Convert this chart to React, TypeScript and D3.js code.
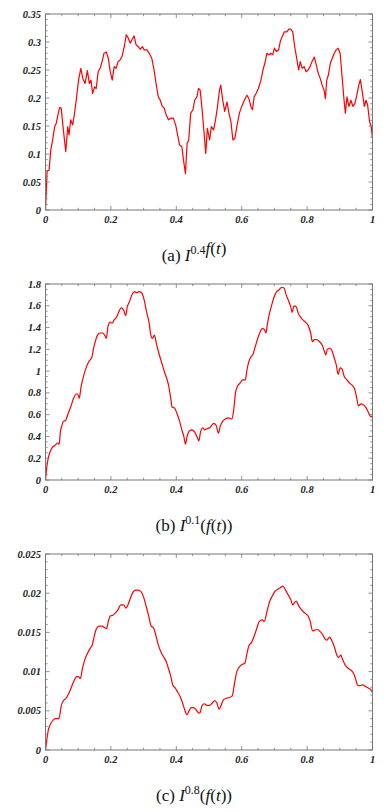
import React from "react";
import * as d3 from "d3";

// (a) I^0.4 f(t)
const T_A = [0, 0.005, 0.011, 0.016, 0.021, 0.028, 0.033, 0.037, 0.043, 0.048, 0.053, 0.058, 0.062, 0.068, 0.072, 0.077, 0.083, 0.088, 0.094, 0.101, 0.108, 0.114, 0.121, 0.128, 0.134, 0.139, 0.144, 0.15, 0.155, 0.161, 0.167, 0.173, 0.179, 0.186, 0.192, 0.198, 0.204, 0.21, 0.216, 0.222, 0.228, 0.234, 0.241, 0.247, 0.253, 0.259, 0.265, 0.271, 0.277, 0.283, 0.29, 0.296, 0.302, 0.31, 0.317, 0.325, 0.332, 0.338, 0.345, 0.351, 0.357, 0.363, 0.369, 0.376, 0.383, 0.391, 0.398, 0.404, 0.41, 0.417, 0.422, 0.428, 0.433, 0.438, 0.444, 0.451, 0.456, 0.463, 0.468, 0.473, 0.479, 0.485, 0.49, 0.495, 0.502, 0.507, 0.514, 0.52, 0.526, 0.532, 0.536, 0.542, 0.548, 0.555, 0.561, 0.567, 0.573, 0.579, 0.585, 0.593, 0.6, 0.608, 0.616, 0.622, 0.628, 0.633, 0.638, 0.644, 0.651, 0.659, 0.665, 0.672, 0.677, 0.683, 0.689, 0.695, 0.7, 0.706, 0.713, 0.718, 0.724, 0.73, 0.738, 0.744, 0.75, 0.756, 0.762, 0.769, 0.774, 0.779, 0.785, 0.791, 0.797, 0.803, 0.809, 0.815, 0.822, 0.828, 0.834, 0.84, 0.846, 0.852, 0.856, 0.86, 0.865, 0.871, 0.877, 0.883, 0.889, 0.895, 0.901, 0.907, 0.913, 0.917, 0.922, 0.928, 0.934, 0.94, 0.946, 0.952, 0.958, 0.963, 0.968, 0.975, 0.98, 0.985, 0.991, 0.996, 1.0];
const V_A = [0, 0.07, 0.071, 0.107, 0.122, 0.149, 0.155, 0.167, 0.183, 0.182, 0.152, 0.125, 0.104, 0.149, 0.134, 0.161, 0.152, 0.17, 0.196, 0.232, 0.253, 0.235, 0.226, 0.249, 0.226, 0.232, 0.208, 0.22, 0.217, 0.247, 0.253, 0.265, 0.28, 0.282, 0.271, 0.247, 0.232, 0.256, 0.253, 0.265, 0.268, 0.274, 0.292, 0.313, 0.307, 0.298, 0.305, 0.311, 0.295, 0.292, 0.287, 0.292, 0.286, 0.286, 0.28, 0.271, 0.25, 0.226, 0.202, 0.196, 0.185, 0.182, 0.17, 0.161, 0.164, 0.164, 0.152, 0.134, 0.116, 0.113, 0.089, 0.065, 0.119, 0.125, 0.173, 0.179, 0.196, 0.202, 0.217, 0.214, 0.179, 0.137, 0.101, 0.146, 0.125, 0.149, 0.143, 0.161, 0.185, 0.214, 0.223, 0.196, 0.176, 0.193, 0.173, 0.158, 0.125, 0.128, 0.149, 0.173, 0.185, 0.196, 0.205, 0.199, 0.185, 0.179, 0.202, 0.208, 0.217, 0.232, 0.25, 0.265, 0.28, 0.277, 0.28, 0.277, 0.289, 0.283, 0.286, 0.301, 0.31, 0.318, 0.318, 0.323, 0.323, 0.318, 0.292, 0.268, 0.25, 0.265, 0.253, 0.256, 0.247, 0.25, 0.256, 0.265, 0.273, 0.259, 0.244, 0.235, 0.223, 0.214, 0.199, 0.232, 0.241, 0.262, 0.271, 0.28, 0.286, 0.289, 0.28, 0.238, 0.196, 0.173, 0.202, 0.185, 0.196, 0.185, 0.19, 0.205, 0.223, 0.233, 0.214, 0.185, 0.196, 0.188, 0.158, 0.149, 0.128];

// (b) I^0.1(f(t))
const T_B = [0, 0.004, 0.009, 0.014, 0.021, 0.03, 0.037, 0.042, 0.045, 0.05, 0.055, 0.061, 0.068, 0.077, 0.086, 0.094, 0.099, 0.103, 0.109, 0.116, 0.124, 0.133, 0.142, 0.147, 0.154, 0.159, 0.167, 0.175, 0.181, 0.186, 0.191, 0.198, 0.204, 0.21, 0.218, 0.225, 0.231, 0.239, 0.245, 0.25, 0.257, 0.264, 0.272, 0.279, 0.285, 0.294, 0.302, 0.31, 0.317, 0.322, 0.327, 0.333, 0.34, 0.348, 0.356, 0.364, 0.371, 0.377, 0.383, 0.387, 0.395, 0.402, 0.41, 0.417, 0.423, 0.428, 0.433, 0.44, 0.448, 0.456, 0.463, 0.469, 0.474, 0.481, 0.487, 0.493, 0.502, 0.508, 0.514, 0.522, 0.529, 0.534, 0.542, 0.55, 0.56, 0.57, 0.575, 0.581, 0.587, 0.595, 0.603, 0.611, 0.616, 0.622, 0.628, 0.634, 0.641, 0.648, 0.655, 0.663, 0.67, 0.674, 0.679, 0.685, 0.692, 0.699, 0.707, 0.714, 0.718, 0.724, 0.73, 0.736, 0.744, 0.75, 0.754, 0.76, 0.767, 0.773, 0.779, 0.787, 0.795, 0.803, 0.811, 0.816, 0.822, 0.83, 0.838, 0.846, 0.852, 0.857, 0.862, 0.871, 0.877, 0.883, 0.889, 0.895, 0.901, 0.907, 0.913, 0.922, 0.93, 0.938, 0.946, 0.952, 0.957, 0.964, 0.973, 0.981, 0.989, 0.995, 1.0];
const V_B = [0, 0.12, 0.21, 0.26, 0.3, 0.32, 0.34, 0.33, 0.43, 0.5, 0.54, 0.545, 0.6, 0.67, 0.75, 0.79, 0.79, 0.75, 0.86, 0.95, 1.03, 1.09, 1.13, 1.21, 1.29, 1.33, 1.35, 1.35, 1.33, 1.3, 1.41, 1.45, 1.44, 1.47, 1.5, 1.55, 1.58, 1.56, 1.51, 1.59, 1.64, 1.7, 1.73, 1.72, 1.73, 1.72, 1.65, 1.53, 1.44, 1.33, 1.3, 1.33, 1.24, 1.15, 1.07, 0.99, 0.93, 0.86, 0.75, 0.67, 0.66, 0.61, 0.54, 0.46, 0.4, 0.33, 0.4, 0.45, 0.46, 0.44, 0.4, 0.36, 0.44, 0.48, 0.46, 0.47, 0.48, 0.5, 0.52, 0.5, 0.43, 0.49, 0.54, 0.56, 0.57, 0.56, 0.63, 0.8, 0.86, 0.89, 0.92, 0.92, 1.01, 1.09, 1.13, 1.15, 1.22, 1.29, 1.35, 1.39, 1.38, 1.35, 1.44, 1.53, 1.61, 1.68, 1.73, 1.745, 1.76, 1.77, 1.76, 1.7, 1.64, 1.59, 1.54, 1.6, 1.59, 1.53, 1.5, 1.47, 1.45, 1.42, 1.35, 1.27, 1.29, 1.29, 1.27, 1.24, 1.19, 1.15, 1.2, 1.21, 1.18, 1.12, 1.06, 0.97, 1.03, 1.02, 0.955, 0.92, 0.89, 0.87, 0.83, 0.75, 0.68, 0.7, 0.69, 0.66, 0.61, 0.58, 0.59];

// (c) I^0.8(f(t))
const T_C = [0, 0.004, 0.009, 0.014, 0.021, 0.03, 0.04, 0.043, 0.048, 0.055, 0.063, 0.071, 0.08, 0.088, 0.096, 0.102, 0.107, 0.112, 0.12, 0.128, 0.137, 0.143, 0.149, 0.155, 0.163, 0.173, 0.181, 0.187, 0.192, 0.198, 0.206, 0.214, 0.222, 0.23, 0.239, 0.246, 0.251, 0.259, 0.267, 0.275, 0.283, 0.292, 0.3, 0.308, 0.316, 0.323, 0.33, 0.337, 0.345, 0.353, 0.361, 0.369, 0.376, 0.383, 0.389, 0.397, 0.404, 0.412, 0.419, 0.426, 0.432, 0.438, 0.445, 0.453, 0.461, 0.469, 0.473, 0.479, 0.486, 0.493, 0.502, 0.51, 0.518, 0.524, 0.531, 0.537, 0.544, 0.553, 0.563, 0.571, 0.578, 0.585, 0.593, 0.601, 0.61, 0.616, 0.622, 0.63, 0.638, 0.646, 0.654, 0.663, 0.669, 0.677, 0.685, 0.693, 0.701, 0.71, 0.718, 0.726, 0.734, 0.742, 0.75, 0.756, 0.76, 0.767, 0.773, 0.779, 0.787, 0.795, 0.803, 0.809, 0.817, 0.824, 0.832, 0.84, 0.848, 0.854, 0.86, 0.869, 0.875, 0.883, 0.891, 0.897, 0.903, 0.909, 0.917, 0.926, 0.934, 0.942, 0.948, 0.954, 0.962, 0.97, 0.979, 0.987, 0.995, 1.0];
const V_C = [0, 0.0013, 0.0026, 0.0032, 0.0037, 0.004, 0.004, 0.0043, 0.0056, 0.0063, 0.0066, 0.0072, 0.0081, 0.0089, 0.0094, 0.0093, 0.0091, 0.0102, 0.0115, 0.0123, 0.013, 0.0134, 0.0145, 0.0154, 0.0158, 0.0158, 0.0156, 0.0155, 0.0164, 0.0171, 0.0172, 0.0175, 0.0179, 0.0185, 0.0185, 0.0181, 0.0184, 0.0193, 0.0201, 0.0204, 0.0204, 0.0202, 0.0195, 0.0183, 0.017, 0.0158, 0.0156, 0.0147, 0.0134, 0.0125, 0.0119, 0.0113, 0.0104, 0.0094, 0.0083, 0.0079, 0.0074, 0.0068, 0.006, 0.0051, 0.0045, 0.0049, 0.0054, 0.0054, 0.0051, 0.0047, 0.0048, 0.0057, 0.0059, 0.0057, 0.0057, 0.006, 0.0063, 0.006, 0.0052, 0.0057, 0.0064, 0.0066, 0.0067, 0.0069, 0.0085, 0.01, 0.0106, 0.0109, 0.0111, 0.0123, 0.0133, 0.0137, 0.0145, 0.0155, 0.0164, 0.0166, 0.0164, 0.0176, 0.0189, 0.0196, 0.0202, 0.0205, 0.0207, 0.0209, 0.0204, 0.0198, 0.0192, 0.0185, 0.0187, 0.019, 0.0185, 0.0181, 0.0177, 0.0174, 0.0171, 0.0165, 0.0152, 0.0153, 0.0154, 0.0151, 0.0147, 0.0142, 0.014, 0.0144, 0.014, 0.0132, 0.0121, 0.0118, 0.0121, 0.0115, 0.0108, 0.0104, 0.0102, 0.0098, 0.0091, 0.0083, 0.0082, 0.0083, 0.0081, 0.0079, 0.0077, 0.0073];

const X_TICKS = [0, 0.2, 0.4, 0.6, 0.8, 1];
const X_LABELS = ["0", "0.2", "0.4", "0.6", "0.8", "1"];

const Y_TICKS_A = [0, 0.05, 0.1, 0.15, 0.2, 0.25, 0.3, 0.35];
const Y_LABELS_A = ["0", "0.05", "0.1", "0.15", "0.2", "0.25", "0.3", "0.35"];
const Y_TICKS_B = [0, 0.2, 0.4, 0.6, 0.8, 1, 1.2, 1.4, 1.6, 1.8];
const Y_LABELS_B = ["0", "0.2", "0.4", "0.6", "0.8", "1", "1.2", "1.4", "1.6", "1.8"];
const Y_TICKS_C = [0, 0.005, 0.01, 0.015, 0.02, 0.025];
const Y_LABELS_C = ["0", "0.005", "0.01", "0.015", "0.02", "0.025"];

const FRAME = "#777";
const LINE = "#ff0000";
const SERIF = "Liberation Serif, DejaVu Serif, serif";

type PanelProps = {
  top: number;
  t: number[];
  v: number[];
  yTicks: number[];
  yLabels: string[];
  yMinor: number;
  curve: d3.CurveFactory;
  letter: string;
  order: string;
  wrap: boolean;
};

function Panel({ top, t, v, yTicks, yLabels, yMinor, curve, letter, order, wrap }: PanelProps) {
  const h = 196;
  const yMax = yTicks[yTicks.length - 1];
  const x = d3.scaleLinear().domain([0, 1]).range([45.5, 372.5]);
  const y = d3.scaleLinear().domain([0, yMax]).range([top + h, top]);

  const pts = d3.zip(t, v) as [number, number][];
  const path = d3
    .line<[number, number]>()
    .x((d) => x(d[0]))
    .y((d) => y(d[1]))
    .curve(curve)(pts) || "";

  // frame ticks: majors at labels, minors in between
  const xMinor = d3.range(0, 1.0001, 0.05);
  const yMinorTicks = d3.range(0, yMax + yMinor / 2, yMinor);
  const isMajorX = (val: number) => X_TICKS.some((m) => Math.abs(m - val) < 1e-6);
  const isMajorY = (val: number) => yTicks.some((m) => Math.abs(m - val) < 1e-9);

  const [x0, x1] = x.range();
  const [y0, y1] = [y(0), y(yMax)];

  return (
    <g>
      <path d={path} fill="none" stroke={LINE} strokeWidth={1.2} strokeLinejoin="round" />
      <rect x={x0} y={y1} width={x1 - x0} height={y0 - y1} fill="none" stroke={FRAME} strokeWidth={1} />
      {xMinor.map((val, i) => {
        const len = isMajorX(val) ? 4 : 2.2;
        return (
          <g key={"xt" + i} stroke={FRAME} strokeWidth={0.8}>
            <line x1={x(val)} x2={x(val)} y1={y0} y2={y0 - len} />
            <line x1={x(val)} x2={x(val)} y1={y1} y2={y1 + len} />
          </g>
        );
      })}
      {yMinorTicks.map((val, i) => {
        const len = isMajorY(val) ? 4 : 2.2;
        return (
          <g key={"yt" + i} stroke={FRAME} strokeWidth={0.8}>
            <line x1={x0} x2={x0 + len} y1={y(val)} y2={y(val)} />
            <line x1={x1} x2={x1 - len} y1={y(val)} y2={y(val)} />
          </g>
        );
      })}
      {X_TICKS.map((val, i) => (
        <text
          key={"xl" + i}
          x={x(val)}
          y={y0 + 13}
          textAnchor="middle"
          fontFamily={SERIF}
          fontWeight="bold"
          fontStyle="italic"
          fontSize={10.5}
          fill="#222"
        >
          {X_LABELS[i]}
        </text>
      ))}
      {yTicks.map((val, i) => (
        <text
          key={"yl" + i}
          x={41}
          y={y(val) + 3.5}
          textAnchor="end"
          fontFamily={SERIF}
          fontWeight="bold"
          fontStyle="italic"
          fontSize={10.5}
          fill="#222"
        >
          {yLabels[i]}
        </text>
      ))}
      <text x={194} y={top + 247} textAnchor="middle" fontFamily={SERIF} fontSize={17} fill="#111">
        <tspan>{`(${letter}) `}</tspan>
        <tspan fontStyle="italic">I</tspan>
        <tspan fontSize={12} dy={-7}>{order}</tspan>
        <tspan dy={7} dx={wrap ? 0 : 2}>{wrap ? "(" : ""}</tspan>
        <tspan fontStyle="italic">f</tspan>
        <tspan>(</tspan>
        <tspan fontStyle="italic">t</tspan>
        <tspan>{wrap ? "))" : ")"}</tspan>
      </text>
    </g>
  );
}

export default function App() {
  return (
    <svg
      width={387}
      height={812}
      viewBox="0 0 387 812"
      style={{ position: "absolute", left: 0, top: 0, background: "#fff" }}
    >
      <Panel top={14} t={T_A} v={V_A} yTicks={Y_TICKS_A} yLabels={Y_LABELS_A} yMinor={0.01} curve={d3.curveLinear} letter="a" order="0.4" wrap={false} />
      <Panel top={284} t={T_B} v={V_B} yTicks={Y_TICKS_B} yLabels={Y_LABELS_B} yMinor={0.05} curve={d3.curveMonotoneX} letter="b" order="0.1" wrap={true} />
      <Panel top={554} t={T_C} v={V_C} yTicks={Y_TICKS_C} yLabels={Y_LABELS_C} yMinor={0.001} curve={d3.curveMonotoneX} letter="c" order="0.8" wrap={true} />
    </svg>
  );
}
